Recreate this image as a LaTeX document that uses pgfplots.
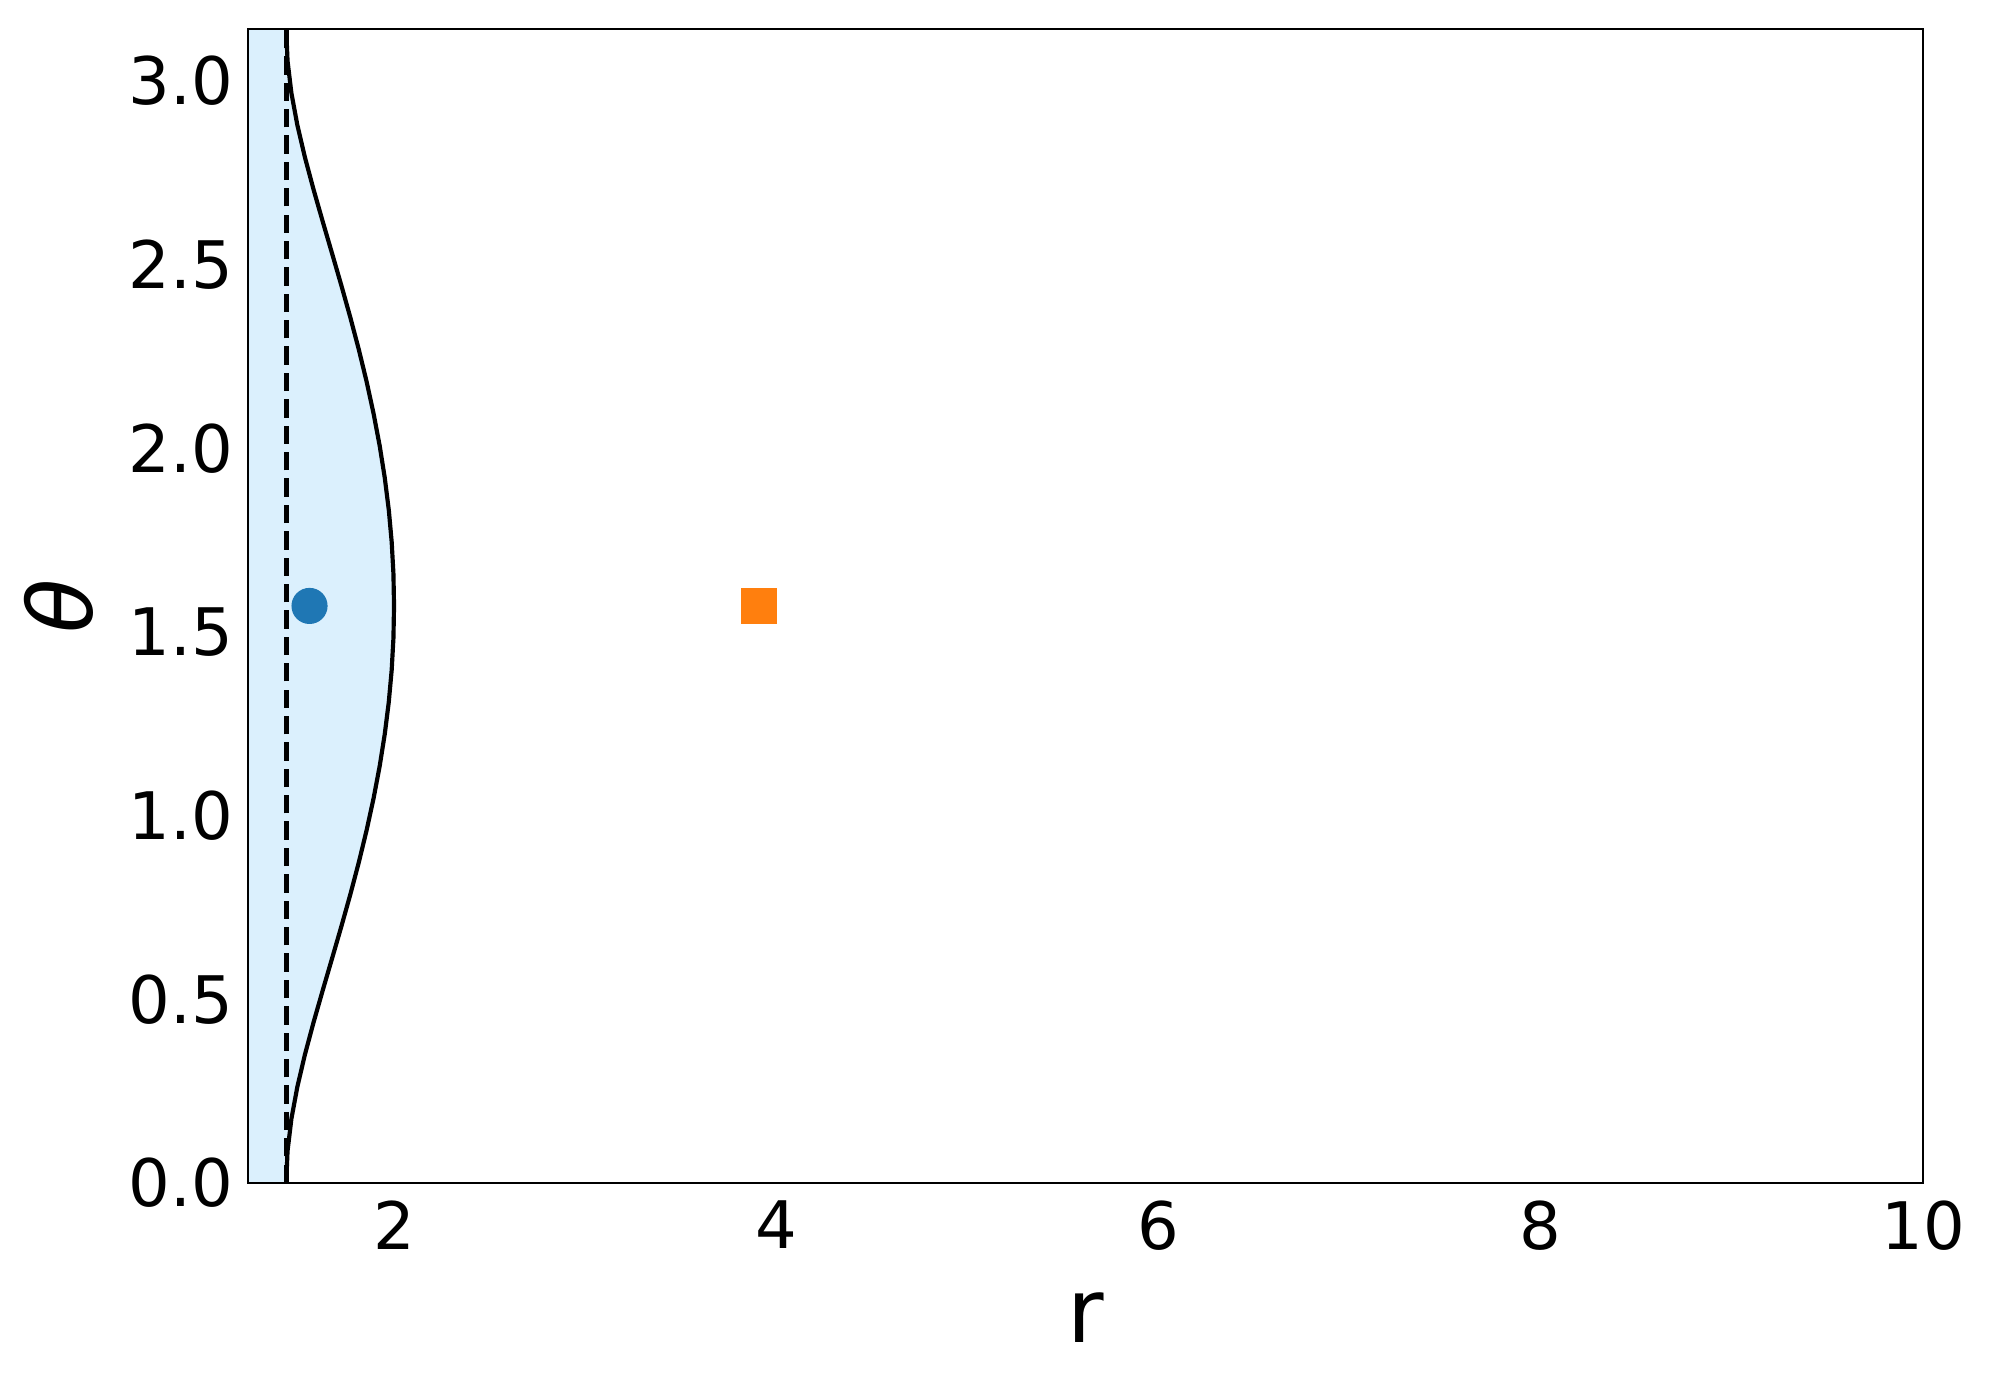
\documentclass[border=0pt]{standalone}
\usepackage{pgfplots}
\pgfplotsset{compat=1.18}
\usepackage{pgfplotstable}
\usepackage{fontspec}
\setmainfont{DejaVu Sans}

\definecolor{mplblue}{HTML}{1F77B4}
\definecolor{mplorange}{HTML}{FF7F0E}
\definecolor{ergofill}{RGB}{219,240,253}

% ergosphere boundary, a = 0.9
\pgfplotstableread{
r        theta
1.43589  0.000000
1.44289  0.087266
1.46306  0.174533
1.49423  0.261799
1.53362  0.349066
1.57851  0.436332
1.62650  0.523599
1.67564  0.610865
1.72434  0.698132
1.77136  0.785398
1.81568  0.872665
1.85646  0.959931
1.89303  1.047198
1.92484  1.134464
1.95145  1.221730
1.97249  1.308997
1.98771  1.396263
1.99692  1.483530
2.00000  1.570796
1.99692  1.658063
1.98771  1.745329
1.97249  1.832596
1.95145  1.919862
1.92484  2.007129
1.89303  2.094395
1.85646  2.181662
1.81568  2.268928
1.77136  2.356194
1.72434  2.443461
1.67564  2.530727
1.62650  2.617994
1.57851  2.705260
1.53362  2.792527
1.49423  2.879793
1.46306  2.967060
1.44289  3.054326
1.43589  3.141593
}\ergo

\pgfplotstableread{
r        theta
1.23589  0.000000
1.43589  0.000000
1.44289  0.087266
1.46306  0.174533
1.49423  0.261799
1.53362  0.349066
1.57851  0.436332
1.62650  0.523599
1.67564  0.610865
1.72434  0.698132
1.77136  0.785398
1.81568  0.872665
1.85646  0.959931
1.89303  1.047198
1.92484  1.134464
1.95145  1.221730
1.97249  1.308997
1.98771  1.396263
1.99692  1.483530
2.00000  1.570796
1.99692  1.658063
1.98771  1.745329
1.97249  1.832596
1.95145  1.919862
1.92484  2.007129
1.89303  2.094395
1.85646  2.181662
1.81568  2.268928
1.77136  2.356194
1.72434  2.443461
1.67564  2.530727
1.62650  2.617994
1.57851  2.705260
1.53362  2.792527
1.49423  2.879793
1.46306  2.967060
1.44289  3.054326
1.43589  3.141593
1.23589  3.141593
}\ergofill

\begin{document}
\begin{tikzpicture}
\begin{axis}[
  scale only axis,
  width=603bp, height=415.4bp,
  xmin=1.23589, xmax=10,
  ymin=0, ymax=3.141593,
  axis on top,
  axis line style={line width=0.9bp, black},
  xtick={2,4,6,8,10},
  ytick={0,0.5,1,1.5,2,2.5,3},
  major tick length=0pt,
  /pgf/number format/assume math mode=true,
  yticklabel style={/pgf/number format/fixed, /pgf/number format/fixed zerofill,
    /pgf/number format/precision=1},
  every tick label/.append style={font=\fontsize{23.6bp}{28bp}\selectfont, inner sep=0pt},
  xticklabel style={yshift=-6.1bp},
  yticklabel style={xshift=-5.3bp},
]
\addplot[fill=ergofill, draw=none] table[x=r, y=theta] {\ergofill} -- cycle;
\addplot[black, line width=1.5bp] table[x=r, y=theta] {\ergo};
\addplot[black, line width=1.8bp, dash pattern=on 6.6bp off 2.9bp]
  coordinates {(1.43589,0) (1.43589,3.141593)};
\addplot[only marks, mark=*, mark size=6.3bp, color=mplblue]
  coordinates {(1.557858,1.570796)};
\addplot[only marks, mark=square*, mark size=6.4bp, color=mplorange,
  mark options={rounded corners=1bp}]
  coordinates {(3.910270,1.570796)};
\coordinate (sw) at (rel axis cs:0,0);
\coordinate (ne) at (rel axis cs:1,1);
\coordinate (bm) at (rel axis cs:0.5,0);
\coordinate (lm) at (rel axis cs:0,0.5);
\end{axis}
\node[anchor=base, inner sep=0pt, font=\fontsize{32bp}{38bp}\selectfont]
  at ([yshift=-57.6bp]bm) {r};
\node[anchor=base, rotate=90, inner sep=0pt, font=\fontsize{32bp}{38bp}\selectfont\itshape]
  at ([xshift=-55.8bp]lm) {θ};
\path ([shift={(-89.28bp,-74.16bp)}]sw) rectangle ([shift={(25.92bp,10.44bp)}]ne);
\end{tikzpicture}
\end{document}
